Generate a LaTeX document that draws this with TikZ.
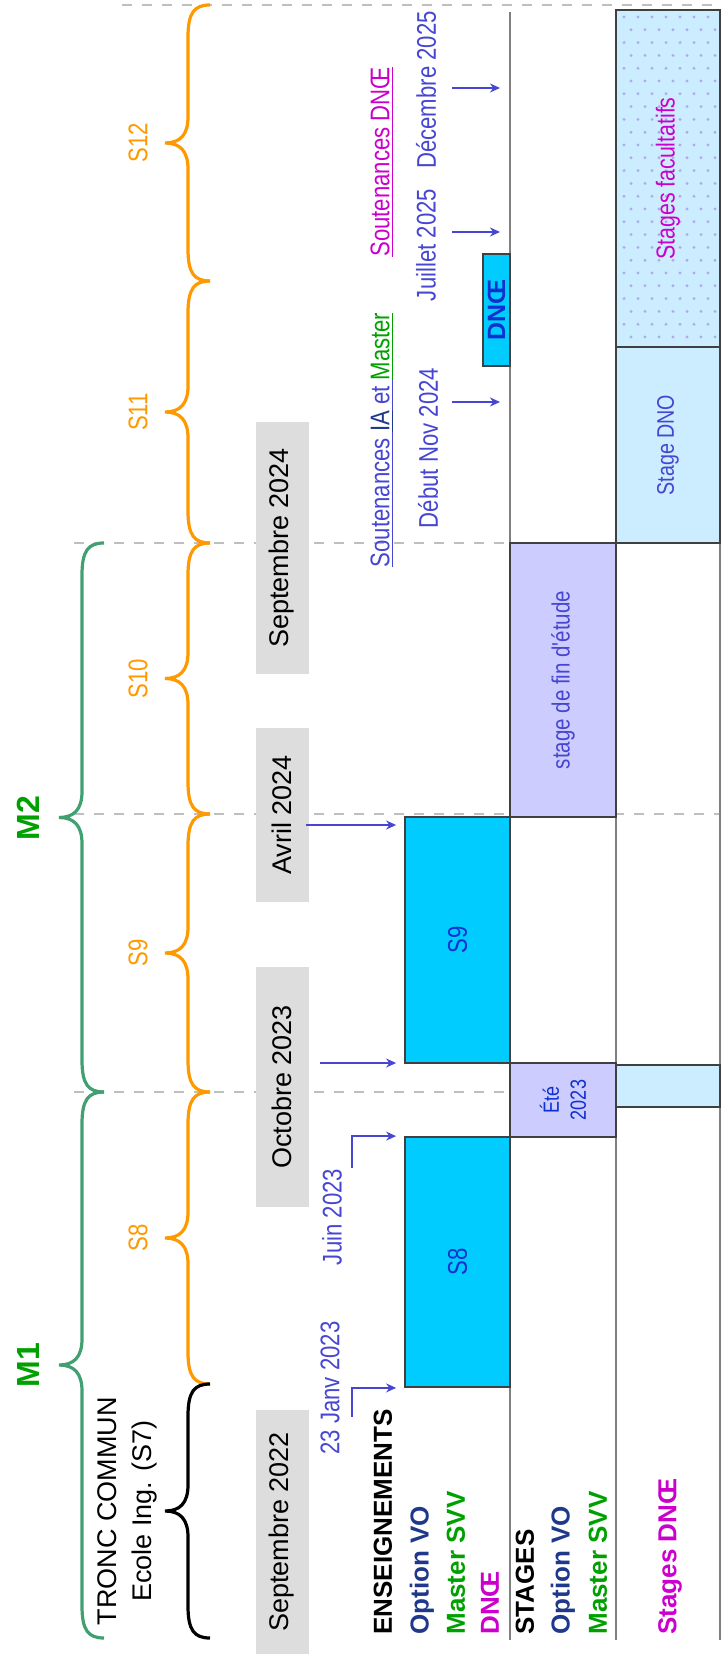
\documentclass[tikz,border=0pt]{standalone}
\usepackage{fontspec}
\setmainfont{Liberation Sans}
\newfontfamily\narrowfont[FakeStretch=0.82]{Liberation Sans}
\usetikzlibrary{fit,arrows.meta}
\definecolor{bracegreen}{RGB}{64,160,112}
\definecolor{semorange}{RGB}{255,153,0}
\definecolor{mgreen}{RGB}{0,160,0}
\definecolor{optnavy}{RGB}{31,56,140}
\definecolor{dnoemag}{RGB}{204,0,204}
\definecolor{dateblue}{RGB}{70,70,210}
\definecolor{boxblue}{RGB}{16,48,208}
\definecolor{enscyan}{RGB}{0,204,255}
\definecolor{stlav}{RGB}{204,204,255}
\definecolor{stlight}{RGB}{204,236,255}
\definecolor{dategray}{RGB}{221,221,221}
\begin{document}
\begin{tikzpicture}[
        >={Stealth[length=5pt,width=4.5pt]},
        x=0.5pt, y=-0.5pt,
        datebox/.style={fill=dategray, rotate=90, font=\fontsize{13.5}{15}\selectfont, minimum height=26.5pt, inner sep=0pt},
        rowlabel/.style={rotate=90, anchor=west, font=\bfseries\fontsize{13}{15}\selectfont, inner sep=0pt},
        smalltext/.style={rotate=90, font=\narrowfont\fontsize{13.5}{15}\selectfont, inner sep=0pt},
        bar/.style={draw=black!75, line width=0.9pt, inner sep=0pt},
        lane/.style={draw=black!50, line width=1pt},
        guide/.style={draw=black!25, line width=1pt, dash pattern=on 5pt off 5pt},
        marker/.style={->, draw=dateblue, line width=0.8pt},
        ]
        \useasboundingbox (0,0) rectangle (722,1663);
        % dashed guides
        \draw[guide] (122,5) -- (722,5);
        \draw[guide] (74,543) -- (720,543);
        \draw[guide] (74,814) -- (720,814);
        \draw[guide] (74,1092) -- (720,1092);
        % braces
        \foreach \ya/\yb/\col/\xe in {5/281/semorange/210, 281/543/semorange/210, 543/814/semorange/210, 814/1092/semorange/210, 1092/1384/semorange/210, 1384/1638/black/210, 543/1092/bracegreen/104, 1092/1638/bracegreen/104}{
            \pgfmathsetmacro\ym{(\ya+\yb)/2}
            \draw[\col, line width=1.6pt] (\xe,\ya) .. controls (\xe-16,\ya) and (\xe-22,\ya+8) .. (\xe-22,\ya+32) -- (\xe-22,\ym-26) .. controls (\xe-22,\ym-8) and (\xe-30,\ym) .. (\xe-45,\ym) .. controls (\xe-30,\ym) and (\xe-22,\ym+8) .. (\xe-22,\ym+26) -- (\xe-22,\yb-32) .. controls (\xe-22,\yb-8) and (\xe-16,\yb) .. (\xe,\yb);
        }
        \node[font=\bfseries\fontsize{16}{18}\selectfont, text=mgreen, rotate=90] (m1) at (28,1365) {M1};
        \node[font=\bfseries\fontsize{16}{18}\selectfont, text=mgreen, rotate=90] (m2) at (28,818) {M2};
        \node[rotate=90, align=center, font=\fontsize{13.5}{17.5}\selectfont] (tronc) at (127,1511) {TRONC COMMUN\\Ecole Ing. (S7)};
        \foreach \ys/\lab in {143/S12, 412/S11, 679/S10, 953/S9, 1238/S8}{
            \node[smalltext, text=semorange] at (138,\ys) {\lab};
        }
        % dates
        \node[datebox, minimum width=122pt] (sep22) at (282,1532) {Septembre 2022};
        \node[datebox, minimum width=120pt] (oct23) at (282,1087) {Octobre 2023};
        \node[datebox, minimum width=87pt] (avr24) at (282,815) {Avril 2024};
        \node[datebox, minimum width=126pt] (sep24) at (282,548) {Septembre 2024};
        % lanes
        \coordinate (lane1top) at (510,12);
        \coordinate (lane1bot) at (510,1640);
        \coordinate (lane2top) at (616,10);
        \coordinate (lane2bot) at (616,1640);
        \coordinate (lane3top) at (720,10);
        \coordinate (lane3bot) at (720,1640);
        \draw[lane] (lane1top) -- (lane1bot);
        \draw[lane] (lane2top) -- (lane2bot);
        \draw[lane] (lane3top) -- (lane3bot);
        % bars
        \node[bar, fill=enscyan, fit={(405,1137) (510,1387)}] (s8) {};
        \node[bar, fill=enscyan, fit={(405,817) (510,1063)}] (s9) {};
        \node[bar, fill=enscyan, fit={(483,254) (510,366)}] (dnoe) {};
        \node[bar, fill=stlav, fit={(510,1063) (616,1137)}] (ete) {};
        \node[bar, fill=stlav, fit={(510,543) (616,817)}] (pfe) {};
        \node[bar, fill=stlight, fit={(616,1065) (720,1107)}] (etedno) {};
        \node[bar, fill=stlight, fit={(616,347) (720,543)}] (stdno) {};
        \node[bar, fill=stlight, fit={(616,10) (720,347)}] (facult) {};
        \foreach \r in {0,...,25}{
            \foreach \c in {0,...,6}{
                \fill[dateblue!45] ({624+14*\c+7*mod(\r,2)},{17+12.8*\r}) circle (0.8pt);
            }
        }
        \node[smalltext, text=boxblue] at (s8) {S8};
        \node[smalltext, text=boxblue] at (s9) {S9};
        \node[rotate=90, text=boxblue, font=\bfseries\fontsize{12.5}{14}\selectfont, inner sep=0pt] at (dnoe) {DNŒ};
        \node[smalltext, align=center, text=boxblue, font=\narrowfont\fontsize{11}{13.5}\selectfont] at (ete) {Été\\2023};
        \node[smalltext, text=dateblue, font=\narrowfont\fontsize{12.5}{14}\selectfont] at (pfe) {stage de fin d'étude};
        \node[smalltext, text=dateblue, font=\narrowfont\fontsize{12}{14}\selectfont] at (stdno) {Stage DNO};
        \node[smalltext, text=dnoemag, font=\narrowfont\fontsize{13}{15}\selectfont] at (facult) {Stages facultatifs};
        % row labels
        \node[rowlabel] (ens) at (383,1635) {ENSEIGNEMENTS};
        \node[rowlabel, text=optnavy] (ensvo) at (422,1635) {Option VO};
        \node[rowlabel, text=mgreen] (enssvv) at (456,1635) {Master SVV};
        \node[rowlabel, text=dnoemag] (ensdnoe) at (490,1635) {DNŒ};
        \node[rowlabel] (stg) at (525,1635) {STAGES};
        \node[rowlabel, text=optnavy] (stgvo) at (563,1635) {Option VO};
        \node[rowlabel, text=mgreen] (stgsvv) at (598,1635) {Master SVV};
        \node[rowlabel, text=dnoemag] (stgdnoe) at (670,1635) {Stages DNŒ};
        % key dates
        \node[smalltext, text=dateblue] (janv) at (330,1388) {23 Janv 2023};
        \node[smalltext, text=dateblue] (juin) at (332,1217) {Juin 2023};
        \node[smalltext] (soutia) at (382,440) {\textcolor{dateblue}{\underline{Soutenances\ }}\textcolor{optnavy}{\underline{IA}}\textcolor{dateblue}{\underline{\ et\ }}\textcolor{mgreen}{\underline{Master}}};
        \node[smalltext, text=dateblue] (nov) at (428,448) {Début Nov 2024};
        \node[smalltext, text=dnoemag] (soutdnoe) at (382,162) {\underline{Soutenances DNŒ}};
        \node[smalltext, text=dateblue] (juil) at (426,245) {Juillet 2025};
        \node[smalltext, text=dateblue] (dec) at (426,90) {Décembre 2025};
        \coordinate (janvfrom) at (352,1417);
        \coordinate (juinfrom) at (352,1168);
        \coordinate (octfrom) at (320,1063);
        \coordinate (avrfrom) at (306,825);
        \coordinate (novfrom) at (452,402);
        \coordinate (juilfrom) at (452,232);
        \coordinate (decfrom) at (452,88);
        \draw[marker] (janvfrom) |- ([xshift=-4pt]s8.south west);
        \draw[marker] (juinfrom) |- ([xshift=-4pt]s8.north west);
        \draw[marker] (octfrom) -- ([xshift=-4pt]octfrom -| s9.west);
        \draw[marker] (avrfrom) -- ([xshift=-4pt]avrfrom -| s9.west);
        \draw[marker] (novfrom) -- ([xshift=-5pt]novfrom -| lane1top);
        \draw[marker] (juilfrom) -- ([xshift=-5pt]juilfrom -| lane1top);
        \draw[marker] (decfrom) -- ([xshift=-5pt]decfrom -| lane1top);
\end{tikzpicture}
\end{document}
